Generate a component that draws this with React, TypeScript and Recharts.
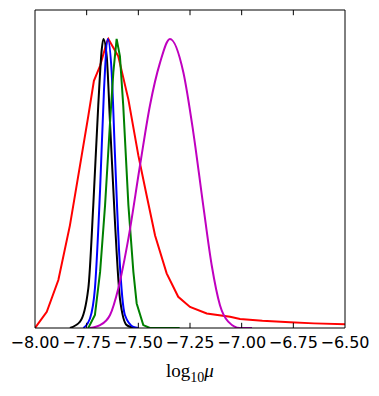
import { Label, Line, LineChart, XAxis, YAxis } from 'recharts';

const ticks = [-8.0, -7.75, -7.5, -7.25, -7.0, -6.75, -6.5];

const redX = [-8.0, -7.943, -7.887, -7.831, -7.774, -7.742, -7.715, -7.685, -7.653, -7.645, -7.597, -7.548, -7.5, -7.46, -7.419, -7.363, -7.307, -7.25, -7.169, -7.056, -7.008, -6.9, -6.766, -6.65, -6.5];
const redY = [0.0, 0.056, 0.166, 0.355, 0.597, 0.734, 0.855, 0.907, 0.987, 1.0, 0.94, 0.79, 0.597, 0.459, 0.32, 0.189, 0.108, 0.073, 0.05, 0.039, 0.031, 0.025, 0.02, 0.016, 0.013];

const blackX = [-7.831, -7.782, -7.742, -7.718, -7.694, -7.677, -7.669, -7.653, -7.637, -7.613, -7.589, -7.556, -7.52];
const blackY = [0, 0.022, 0.137, 0.424, 0.769, 0.964, 1.0, 0.94, 0.711, 0.366, 0.102, 0.01, 0];

const blueX = [-7.766, -7.734, -7.71, -7.685, -7.666, -7.648, -7.629, -7.613, -7.592, -7.565, -7.524, -7.5];
const blueY = [0, 0.033, 0.137, 0.48, 0.826, 1.0, 0.884, 0.597, 0.252, 0.045, 0.004, 0];

const greenX = [-7.742, -7.71, -7.685, -7.661, -7.637, -7.621, -7.605, -7.589, -7.573, -7.548, -7.524, -7.508, -7.476, -7.444, -7.3];
const greenY = [0, 0.045, 0.194, 0.424, 0.711, 0.884, 1.0, 0.94, 0.769, 0.424, 0.194, 0.085, 0.01, 0, 0];

const magentaX = [-7.734, -7.685, -7.637, -7.597, -7.548, -7.492, -7.444, -7.395, -7.347, -7.282, -7.234, -7.186, -7.145, -7.105, -7.065, -7.008, -6.95];
const magentaY = [0, 0.01, 0.045, 0.137, 0.31, 0.562, 0.769, 0.918, 1.0, 0.884, 0.677, 0.424, 0.217, 0.079, 0.022, 0, 0];

const yMax = 1.1;
const tickLen = 0.018; // ~5px in data units

const toPoints = (xs: number[], ys: number[]) => xs.map((x, i) => ({ x, y: ys[i] }));

const series = [
  { name: 'red', color: '#ff0000', data: toPoints(redX, redY), curve: 'linear' },
  { name: 'black', color: '#000000', data: toPoints(blackX, blackY), curve: 'monotone' },
  { name: 'blue', color: '#0000ff', data: toPoints(blueX, blueY), curve: 'monotone' },
  { name: 'green', color: '#008000', data: toPoints(greenX, greenY), curve: 'linear' },
  { name: 'magenta', color: '#bf00bf', data: toPoints(magentaX, magentaY), curve: 'monotone' },
];

// inward tick marks on the bottom and top frame, as short vertical segments
const tickMarks = ticks.slice(1, -1).flatMap((t) => [
  { id: `b${t}`, data: [{ x: t, y: 0 }, { x: t, y: tickLen }] },
  { id: `t${t}`, data: [{ x: t, y: yMax }, { x: t, y: yMax - tickLen }] },
]);

const black = { stroke: '#000', strokeWidth: 1 };

function BottomTick(props: any) {
  const { x, y, payload } = props;
  return (
    <text
      x={x}
      y={y + 20}
      textAnchor="middle"
      fontFamily="'DejaVu Sans', sans-serif"
      fontSize={16}
      fill="#000"
    >
      {payload.value.toFixed(2).replace('-', '\u2212')}
    </text>
  );
}

function XLabel(props: any) {
  const vb = props.viewBox || {};
  return (
    <text
      x={vb.x + vb.width / 2}
      y={vb.y + 49}
      textAnchor="middle"
      fontFamily="'Liberation Serif', serif"
      fontSize={19}
      fill="#000"
    >
      log
      <tspan fontSize={14} dy={5}>10</tspan>
      <tspan fontStyle="italic" dy={-5}>μ</tspan>
    </text>
  );
}

export default function App() {
  return (
    <LineChart
      width={363}
      height={380}
      margin={{ top: 1, right: 25, bottom: 0, left: 26 }}
    >
      <XAxis
        type="number"
        dataKey="x"
        domain={[-8, -6.5]}
        ticks={ticks}
        allowDataOverflow
        height={60}
        axisLine={black}
        tickLine={false}
        tickSize={0}
        tickMargin={0}
        tick={<BottomTick />}
        interval={0}
      >
        <Label content={XLabel} />
      </XAxis>
      <XAxis
        xAxisId="top"
        orientation="top"
        type="number"
        dataKey="x"
        domain={[-8, -6.5]}
        allowDataOverflow
        height={1}
        axisLine={black}
        tickLine={false}
        tick={false}
      />
      <YAxis type="number" domain={[0, yMax]} width={1} axisLine={black} tick={false} tickLine={false} allowDataOverflow />
      <YAxis yAxisId="right" orientation="right" type="number" domain={[0, yMax]} width={1} axisLine={black} tick={false} tickLine={false} />
      {series.map((s) => (
        <Line
          key={s.name}
          data={s.data}
          dataKey="y"
          type={s.curve as any}
          stroke={s.color}
          strokeWidth={2}
          dot={false}
          isAnimationActive={false}
        />
      ))}
      {tickMarks.map((m) => (
        <Line
          key={m.id}
          data={m.data}
          dataKey="y"
          type="linear"
          stroke="#000"
          strokeWidth={1}
          dot={false}
          activeDot={false}
          isAnimationActive={false}
        />
      ))}
    </LineChart>
  );
}
